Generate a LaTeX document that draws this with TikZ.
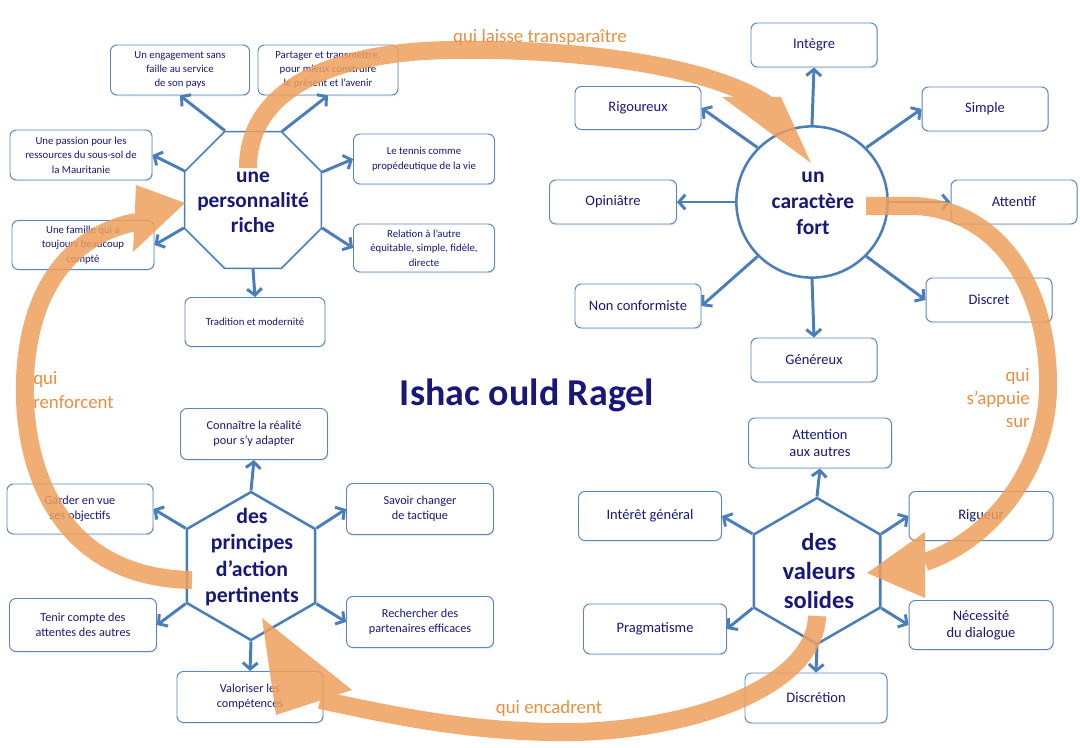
\documentclass[tikz,border=0pt]{standalone}
\usepackage{fontspec}
\setmainfont{Carlito}
\usetikzlibrary{arrows.meta,shapes.geometric,shadows}
\definecolor{navy}{RGB}{24,24,122}
\definecolor{boxblue}{RGB}{88,134,194}
\definecolor{arrblue}{RGB}{74,126,187}
\definecolor{orng}{RGB}{238,160,92}
\definecolor{orngtxt}{RGB}{236,142,64}
\begin{document}
\begin{tikzpicture}[x=0.025cm,y=-0.025cm,
  box/.style={draw=boxblue, line width=0.7pt, fill=white, rounded corners=0.16cm,
    align=center, text=navy, inner sep=1pt,
    drop shadow={opacity=0.16, shadow xshift=0.7pt, shadow yshift=-0.9pt}},
  sz/.style 2 args={minimum width=#1*0.025cm, minimum height=#2*0.025cm},
  ftl/.style={font=\fontsize{7.65}{10.2}\selectfont},
  fbl/.style={font=\fontsize{8.7}{10.6}\selectfont},
  frt/.style={font=\fontsize{10.3}{12}\selectfont},
  spoke/.style={draw=arrblue, line width=2.1pt, -{Straight Barb[length=4.5pt,width=10.5pt]}},
  center shape/.style={draw=arrblue, fill=white, inner sep=0pt},
  ctext/.style={align=center, text=navy, inner sep=0pt},
  band/.style={draw=orng, line width=0.45cm, line cap=butt},
  orlabel/.style={text=orngtxt, font=\fontsize{13.4}{16.6}\selectfont, inner sep=0pt}
]
\fill[white] (0,0) rectangle (1080,748);
\path[use as bounding box] (0,0) rectangle (1080,748);

% ---------- une personnalité riche ----------
\node[center shape, regular polygon, regular polygon sides=8, minimum size=3.7cm, line width=1.1pt] (oct) at (253,200) {};
\node[ctext, font={\fontsize{15.2}{17.7}\selectfont\bfseries}] (oct-t) at (253,202) {une\\personnalité\\riche};
\node[box, ftl, sz={139}{50}] (eng) at (180,70) {Un engagement sans\\faille au service\\de son pays};
\node[box, ftl, sz={140}{50}] (par) at (328,70) {Partager et transmettre,\\pour mieux construire\\le présent et l’avenir};
\node[box, ftl, sz={142}{50}] (pas) at (81,155) {Une passion pour les\\ressources du sous-sol de\\la Mauritanie};
\node[box, ftl, sz={141}{50}] (ten) at (424,159) {Le tennis comme\\propédeutique de la vie};
\node[box, ftl, sz={142}{49}] (fam) at (83,245) {Une famille qui a\\toujours beaucoup\\compté};
\node[box, ftl, sz={141}{48}] (rel) at (424,248) {Relation à l’autre\\équitable, simple, fidèle,\\directe};
\node[box, ftl, sz={140}{49}] (tra) at (255,322) {Tradition et modernité};
\draw[spoke] (oct.112.5) -- (eng.south);
\draw[spoke] (oct.67.5) -- (par.south);
\draw[spoke] (oct.157.5) -- (pas.east);
\draw[spoke] (oct.202.5) -- (fam.east);
\draw[spoke] (oct.22.5) -- (ten.west);
\draw[spoke] (oct.-22.5) -- (rel.west);
\draw[spoke] (oct.south) -- (tra.north);

% ---------- un caractère fort ----------
\node[center shape, circle, minimum size=3.78cm, line width=1.8pt] (cir) at (812,202) {};
\node[ctext, font={\fontsize{15.3}{18.4}\selectfont\bfseries}] (cir-t) at (813,203) {un\\caractère\\fort};
\node[box, frt, sz={126}{44}] (int) at (814,45) {Intègre};
\node[box, frt, sz={126}{43}] (rig) at (638,108) {Rigoureux};
\node[box, frt, sz={126}{44}] (sim) at (985,109) {Simple};
\node[box, frt, sz={127}{44}] (opi) at (613,202) {Opiniâtre};
\node[box, frt, sz={126}{44}] (att) at (1014,202) {Attentif};
\node[box, frt, sz={126}{44}] (non) at (638,306) {Non conformiste};
\node[box, frt, sz={126}{44}] (dis) at (989,300) {Discret};
\node[box, frt, sz={126}{44}] (gen) at (814,360) {Généreux};
\draw[spoke] (cir.north) -- (int.south);
\draw[spoke] (cir.135) -- (rig.east);
\draw[spoke] (cir.45) -- (sim.west);
\draw[spoke] (cir.west) -- (opi.east);
\draw[spoke] (cir.east) -- (att.west);
\draw[spoke] (cir.225) -- (non.east);
\draw[spoke] (cir.-45) -- (dis.west);
\draw[spoke] (cir.south) -- (gen.north);

% ---------- des principes d'action pertinents ----------
\node[center shape, regular polygon, regular polygon sides=6, shape border rotate=30, minimum size=3.7cm, line width=1.8pt] (pri) at (251,566) {};
\node[ctext, font={\fontsize{15.5}{18.9}\selectfont\bfseries}] (pri-t) at (252,557) {des\\principes\\d’action\\pertinents};
\node[box, fbl, sz={147}{51}] (con) at (254,434) {Connaître la réalité\\pour s’y adapter};
\node[box, fbl, sz={146}{50}] (gar) at (80,509) {Garder en vue\\ses objectifs};
\node[box, fbl, sz={147}{51}] (sav) at (420,509) {Savoir changer\\de tactique};
\node[box, fbl, sz={147}{53}] (tcp) at (83,625) {Tenir compte des\\attentes des autres};
\node[box, fbl, sz={147}{51}] (rec) at (420,622) {Rechercher des\\partenaires efficaces};
\node[box, fbl, sz={146}{51}] (val) at (250,697) {Valoriser les\\compétences};
\draw[spoke] (pri.90) -- (con.south);
\draw[spoke] (pri.150) -- (gar.east);
\draw[spoke] (pri.30) -- (sav.west);
\draw[spoke] (pri.210) -- (tcp.east);
\draw[spoke] (pri.-30) -- (rec.west);
\draw[spoke] (pri.-90) -- (val.north);

% ---------- des valeurs solides ----------
\node[center shape, regular polygon, regular polygon sides=6, shape border rotate=30, minimum size=3.65cm, line width=1.8pt] (vsl) at (817,571) {};
\node[ctext, font={\fontsize{17.4}{20.5}\selectfont\bfseries}] (vsl-t) at (819,571) {des\\valeurs\\solides};
\node[box, frt, sz={143}{50}] (ata) at (820,443) {Attention\\aux autres};
\node[box, frt, sz={143}{49}] (ige) at (650,516) {Intérêt général};
\node[box, frt, sz={144}{49}] (rgu) at (981,516) {Rigueur};
\node[box, frt, sz={143}{50}] (pra) at (655,629) {Pragmatisme};
\node[box, frt, sz={144}{49}] (nec) at (981,625) {Nécessité\\du dialogue};
\node[box, frt, sz={142}{50}] (dsc) at (816,698) {Discrétion};
\draw[spoke] (vsl.90) -- (ata.south);
\draw[spoke] (vsl.150) -- (ige.east);
\draw[spoke] (vsl.30) -- (rgu.west);
\draw[spoke] (vsl.210) -- (pra.east);
\draw[spoke] (vsl.-30) -- (nec.west);
\draw[spoke] (vsl.-90) -- (dsc.north);

% ---------- title ----------
\node[text=navy, font={\fontsize{27}{30}\selectfont\bfseries}, inner sep=0pt] (title) at (527,395) {Ishac ould Ragel};

% ---------- orange cycle ----------
\begin{scope}[transparency group, opacity=0.85]
\draw[band] (248,168) .. controls (248,90) and (330,52) .. (450,50)
  .. controls (560,48) and (705,62) .. (768,105);
\fill[orng] (722,97) -- (781,97) -- (811,163) -- cycle;
\end{scope}
\begin{scope}[transparency group, opacity=0.85]
\draw[band] (866,206) -- (915,206) .. controls (1000,210) and (1050,290) .. (1048,390)
  .. controls (1046,470) and (990,540) .. (925,562);
\fill[orng] (925,532) -- (925,598) -- (867,573) -- cycle;
\end{scope}
\begin{scope}[transparency group, opacity=0.85]
\draw[band] (817,616) .. controls (815,690) and (680,735) .. (550,732)
  .. controls (450,730) and (370,710) .. (320,700);
\fill[orng] (276,715) -- (352,690) -- (262,618) -- cycle;
\end{scope}
\begin{scope}[transparency group, opacity=0.85]
\draw[band] (192,580) .. controls (60,578) and (22,470) .. (25,380)
  .. controls (28,290) and (70,235) .. (136,222);
\fill[orng] (136,185) -- (133,252) -- (185,203) -- cycle;
\end{scope}

\node[orlabel] (l1) at (540,37) {qui laisse transparaître};
\node[orlabel, anchor=east, align=right] (l2) at (1030,398) {qui\\s’appuie\\sur};
\node[orlabel, anchor=west, align=left] (l3) at (33,390) {qui\\renforcent};
\node[orlabel] (l4) at (549,708) {qui encadrent};
\end{tikzpicture}
\end{document}
